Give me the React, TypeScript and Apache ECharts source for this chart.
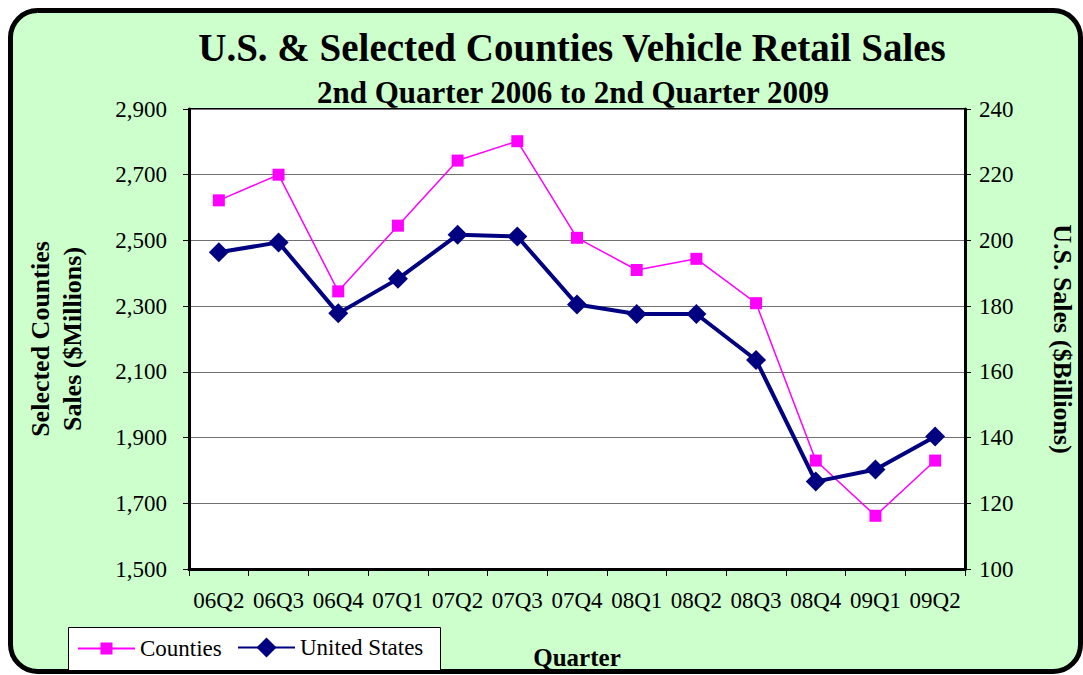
import React, { useEffect, useRef } from "react";
import * as echarts from "echarts";

const quarters = ["06Q2", "06Q3", "06Q4", "07Q1", "07Q2", "07Q3", "07Q4", "08Q1", "08Q2", "08Q3", "08Q4", "09Q1", "09Q2"];
const countiesSales = [2622, 2700, 2345, 2545, 2743, 2802, 2508, 2410, 2444, 2309, 1830, 1662, 1830];
const usSales = [196.4, 199.4, 177.8, 188.3, 201.7, 201.2, 180.5, 177.6, 177.6, 163.6, 126.6, 130.3, 140.3];
const leftAxisRange = { min: 1500, max: 2900, interval: 200 };
const rightAxisRange = { min: 100, max: 240, interval: 20 };

const FONT = "'Liberation Serif', 'Times New Roman', serif";

export default function App() {
  const ref = useRef<HTMLDivElement>(null);
  useEffect(() => {
    if (!ref.current) return;
    const chart = echarts.init(ref.current, undefined, { renderer: "svg" });
    chart.setOption({
      animation: false,
      backgroundColor: "#ffffff",
      textStyle: { fontFamily: FONT, color: "#000" },
      title: [
        {
          text: "U.S. & Selected Counties Vehicle Retail Sales",
          left: 572,
          textAlign: "center",
          top: 28,
          padding: 0,
          textStyle: { fontFamily: FONT, fontSize: 39, fontWeight: "bold", color: "#000" },
        },
        {
          text: "2nd Quarter 2006 to 2nd Quarter 2009",
          left: 573,
          textAlign: "center",
          top: 77,
          padding: 0,
          textStyle: { fontFamily: FONT, fontSize: 31, fontWeight: "bold", color: "#000" },
        },
      ],
      graphic: [
        {
          type: "rect",
          z: -10,
          shape: { x: 10.5, y: 10.5, width: 1070, height: 661, r: 27 },
          style: { fill: "#CCFFCC", stroke: "#000", lineWidth: 5 },
        },
        {
          type: "rect",
          z: 1,
          shape: { x: 68.5, y: 627.5, width: 372, height: 43 },
          style: { fill: "#ffffff", stroke: "#000", lineWidth: 1 },
        },
      ],
      legend: [
        {
          data: ["Counties"],
          left: 77,
          top: 637,
          padding: 0,
          z: 5,
          itemWidth: 57,
          itemHeight: 15,
          textStyle: { fontFamily: FONT, fontSize: 23, color: "#000" },
        },
        {
          data: ["United States"],
          left: 237,
          top: 636,
          padding: 0,
          z: 5,
          itemWidth: 57,
          itemHeight: 25,
          textStyle: { fontFamily: FONT, fontSize: 23, color: "#000" },
        },
      ],
      grid: {
        left: 189,
        right: 98,
        top: 109,
        bottom: 96,
        show: true,
        backgroundColor: "#ffffff",
        borderColor: "#000",
        borderWidth: 2,
      },
      xAxis: {
        type: "category",
        data: quarters,
        boundaryGap: true,
        name: "Quarter",
        nameLocation: "middle",
        nameGap: 76,
        nameTextStyle: { fontFamily: FONT, fontSize: 25, fontWeight: "bold", color: "#000" },
        axisLine: { lineStyle: { color: "#000", width: 3 } },
        axisTick: { show: true, interval: 0, length: 7, lineStyle: { color: "#000", width: 1 } },
        axisLabel: { interval: 0, hideOverlap: false, fontFamily: FONT, fontSize: 23, color: "#000", margin: 20 },
        splitLine: { show: false },
      },
      yAxis: [
        {
          type: "value",
          position: "left",
          min: leftAxisRange.min,
          max: leftAxisRange.max,
          interval: leftAxisRange.interval,
          name: "Selected Counties\nSales ($Millions)",
          nameLocation: "middle",
          nameGap: 101,
          nameTextStyle: { fontFamily: FONT, fontSize: 26, fontWeight: "bold", color: "#000", lineHeight: 32 },
          axisLine: { show: true, lineStyle: { color: "#000", width: 3 } },
          axisTick: { show: true, length: 6, lineStyle: { color: "#000", width: 1 } },
          axisLabel: {
            fontFamily: FONT,
            fontSize: 23,
            color: "#000",
            margin: 22,
            formatter: (v: number) => v.toLocaleString("en-US"),
          },
          splitLine: { show: true, lineStyle: { color: "#707070", width: 1 } },
        },
        {
          type: "value",
          position: "right",
          min: rightAxisRange.min,
          max: rightAxisRange.max,
          interval: rightAxisRange.interval,
          name: "U.S. Sales ($Billions)",
          nameLocation: "middle",
          nameRotate: -90,
          nameGap: 84,
          nameTextStyle: { fontFamily: FONT, fontSize: 26, fontWeight: "bold", color: "#000" },
          axisLine: { show: true, lineStyle: { color: "#000", width: 3 } },
          axisTick: { show: true, length: 6, lineStyle: { color: "#000", width: 1 } },
          axisLabel: { fontFamily: FONT, fontSize: 23, color: "#000", margin: 14 },
          splitLine: { show: false },
        },
      ],
      series: [
        {
          name: "Counties",
          type: "line",
          yAxisIndex: 0,
          data: countiesSales,
          symbol: "rect",
          symbolSize: 12,
          color: "#FF00FF",
          itemStyle: { color: "#FF00FF" },
          lineStyle: { color: "#FF00FF", width: 1.5 },
          z: 2,
        },
        {
          name: "United States",
          type: "line",
          yAxisIndex: 1,
          data: usSales,
          symbol: "diamond",
          symbolSize: 20,
          color: "#000080",
          itemStyle: { color: "#000080" },
          lineStyle: { color: "#000080", width: 4 },
          z: 3,
        },
      ],
    });
    return () => chart.dispose();
  }, []);
  return <div ref={ref} style={{ position: "fixed", left: 0, top: 0, width: 1083, height: 675 }} />;
}
